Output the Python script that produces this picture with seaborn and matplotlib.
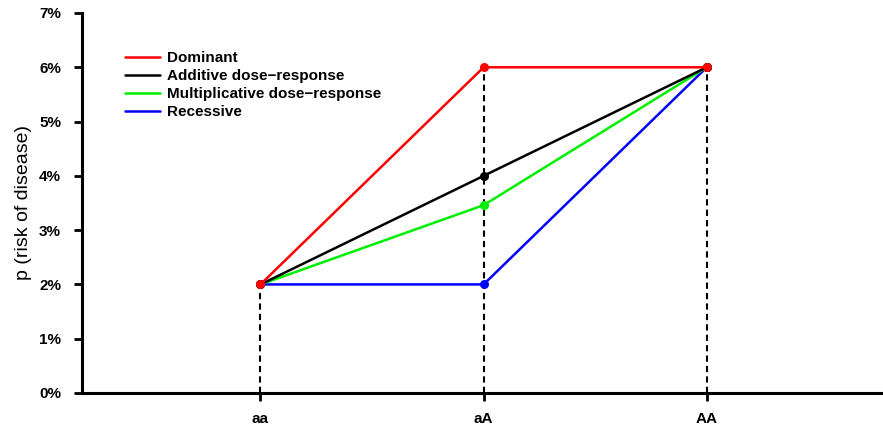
import numpy as np
import pandas as pd
import matplotlib
matplotlib.use("Agg")
import matplotlib.pyplot as plt
import seaborn as sns
from matplotlib.ticker import FixedLocator, FuncFormatter

sns.set_style("ticks")
plt.rcParams['font.family'] = ['Liberation Sans', 'DejaVu Sans']
plt.rcParams['text.color'] = 'black'
plt.rcParams['axes.labelcolor'] = 'black'

# genotype categories and risk of disease (fraction) per model
genotypes = ["aa", "aA", "AA"]
dominant = [0.02, 0.06, 0.06]
additive = [0.02, 0.04, 0.06]
multiplicative = [0.02, 0.0346, 0.06]
recessive = [0.02, 0.02, 0.06]

labels = ["Dominant", "Additive dose\u2212response",
          "Multiplicative dose\u2212response", "Recessive"]
colors = ["#FF0000", "#000000", "#00EE00", "#0000FF"]
series = [dominant, additive, multiplicative, recessive]

pos = np.arange(len(genotypes))
df = pd.concat([pd.DataFrame({"pos": pos, "genotype": genotypes, "p": s, "model": lab})
                for s, lab in zip(series, labels)], ignore_index=True)

fig = plt.figure(figsize=(8.83, 4.28), dpi=100)
ax = fig.add_axes([82 / 883, 35 / 428, 801 / 883, 380 / 428])

# vertical dashed guides from the highest value down to zero
top = df.groupby("pos")["p"].max()
ax.vlines(top.index, 0, top.values, colors="black", linestyles=(0, (3, 2)),
          lw=1.5, zorder=1)

# draw recessive first so dominant sits on top
for lab, col in reversed(list(zip(labels, colors))):
    sub = df[df["model"] == lab]
    sns.lineplot(data=sub, x="pos", y="p", ax=ax, color=col, lw=1.8,
                 marker="o", markersize=6.5, markeredgewidth=0, label=lab,
                 zorder=3)

h, l = ax.get_legend_handles_labels()
order = [l.index(lab) for lab in labels]
leg = ax.legend([h[i] for i in order], [l[i] for i in order],
                loc="upper left", bbox_to_anchor=(0.0537, 0.9),
                frameon=False, borderpad=0, borderaxespad=0,
                handlelength=2.3, handletextpad=0.45, labelspacing=0.27,
                prop={"weight": "bold", "size": 11})
for line in leg.get_lines():
    line.set_marker("")
    line.set_linewidth(1.8)
for t in leg.get_texts():
    t.set_color("black")

ax.set_xlim(-0.8, 2.79)
ax.set_ylim(0, 0.07)
ax.xaxis.set_major_locator(FixedLocator(pos))
ax.set_xticklabels(genotypes)
ax.yaxis.set_major_locator(FixedLocator(np.arange(0, 0.071, 0.01)))
ax.yaxis.set_major_formatter(FuncFormatter(lambda v, _: f"{int(round(v * 100))}%"))

for lab in ax.get_xticklabels() + ax.get_yticklabels():
    lab.set_fontweight("bold")
ax.tick_params(axis="both", length=6, width=2, labelsize=11, color="black",
               labelcolor="black")
ax.tick_params(axis="y", pad=9)
ax.tick_params(axis="x", pad=8)

ax.set_xlabel("")
ax.set_ylabel("p (risk of disease)", fontsize=14, labelpad=5, color="black")

sns.despine(ax=ax)
for sp in ["left", "bottom"]:
    ax.spines[sp].set_linewidth(2.2)
    ax.spines[sp].set_color("black")

fig.savefig("out.png", dpi=100)
